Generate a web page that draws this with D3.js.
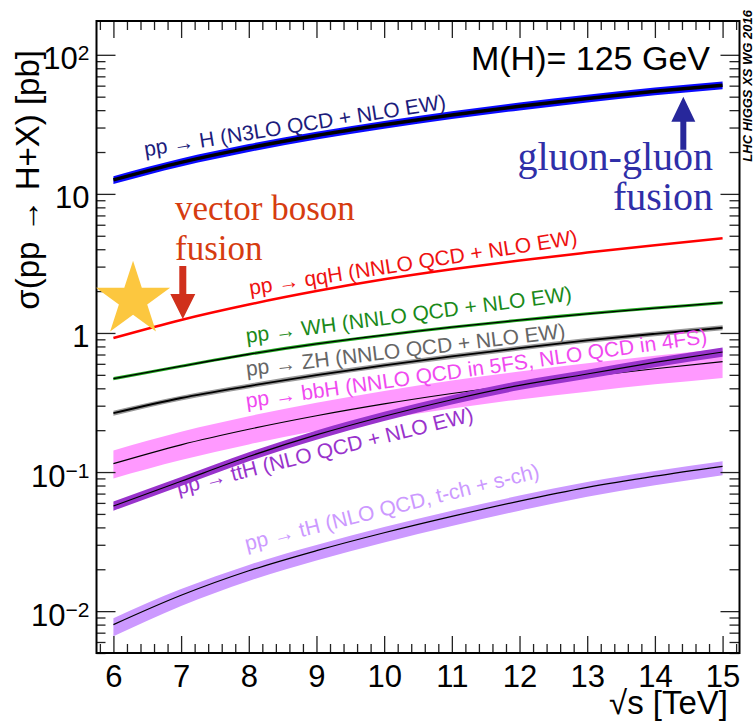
<!DOCTYPE html>
<meta charset="utf-8">
<style>
body { margin: 0; background: #fff; }
text { font-family: "Liberation Sans", Arial, sans-serif; }
.serif { font-family: "Liberation Serif", "DejaVu Serif", serif; }
</style>
<body>
<script src="https://d3js.org/d3.v7.min.js"></script>
<script>

// sqrt(s) grid [TeV]
const sqrtS = [6, 7, 8, 9, 10, 11, 12, 13, 14, 15];

// cross sections [pb], central value and band edges
const ggH    = [12.6, 16.85, 21.42, 26.3, 31.4, 36.9, 42.6, 48.58, 54.67, 60.5];
const ggH_lo = [11.8, 15.75, 20.0, 24.6, 29.35, 34.5, 39.8, 45.4, 51.1, 56.6];
const ggH_hi = [13.4, 17.95, 22.8, 28.0, 33.45, 39.3, 45.35, 51.7, 58.2, 64.4];

const qqH    = [0.92, 1.241, 1.601, 2.0, 2.43, 2.87, 3.32, 3.782, 4.278, 4.79];

const WH     = [0.47, 0.5771, 0.7032, 0.835, 0.965, 1.10, 1.235, 1.373, 1.51, 1.65];
const WH_lo  = [0.458, 0.563, 0.686, 0.814, 0.941, 1.073, 1.204, 1.339, 1.472, 1.609];
const WH_hi  = [0.482, 0.592, 0.721, 0.856, 0.989, 1.128, 1.266, 1.407, 1.548, 1.691];

const ZH     = [0.265, 0.3407, 0.4153, 0.497, 0.585, 0.678, 0.778, 0.8839, 0.9861, 1.09];
const ZH_lo  = [0.254, 0.327, 0.399, 0.477, 0.562, 0.651, 0.747, 0.849, 0.947, 1.046];
const ZH_hi  = [0.276, 0.354, 0.432, 0.517, 0.608, 0.705, 0.809, 0.919, 1.026, 1.134];

const bbH    = [0.115, 0.157, 0.203, 0.254, 0.309, 0.367, 0.427, 0.488, 0.553, 0.622];
const bbH_lo = [0.090, 0.122, 0.158, 0.198, 0.241, 0.286, 0.333, 0.378, 0.427, 0.475];
const bbH_hi = [0.143, 0.195, 0.252, 0.315, 0.383, 0.455, 0.529, 0.605, 0.686, 0.771];

const ttH    = [0.057, 0.0859, 0.1293, 0.185, 0.252, 0.331, 0.42, 0.5071, 0.6137, 0.73];
const ttH_lo = [0.0527, 0.0795, 0.1196, 0.171, 0.233, 0.306, 0.3885, 0.469, 0.568, 0.675];
const ttH_hi = [0.0613, 0.0923, 0.139, 0.199, 0.271, 0.356, 0.4515, 0.545, 0.66, 0.785];

const tH     = [0.0080, 0.0130, 0.0195, 0.0272, 0.0366, 0.0480, 0.0618, 0.0776, 0.0935, 0.110];
const tH_lo  = [0.0066, 0.0109, 0.0165, 0.0231, 0.0312, 0.0410, 0.0528, 0.0665, 0.0803, 0.0948];
const tH_hi  = [0.0089, 0.0144, 0.0215, 0.0299, 0.0402, 0.0527, 0.0677, 0.0848, 0.1018, 0.1195];

const yDecades = [0.01, 0.1, 1, 10, 100];

let width = 755,
    height = 723,
    L = 96.5, R = 739.5, T = 21, B = 653;

let svg = d3.select("body").append("svg")
            .attr("width", width)
            .attr("height", height);

let x = d3.scaleLinear().domain([5.75, 15.25]).range([L, R]),
    y = d3.scaleLog().domain([0.005, 175]).range([B, T]);

const rows = (c, lo, hi) => sqrtS.map((s, i) => ({s: s, c: c[i], lo: lo ? lo[i] : null, hi: hi ? hi[i] : null}));

const procs = [
    {d: rows(ggH, ggH_lo, ggH_hi), band: "#0a0aff", line: "#000", lw: 3.5},
    {d: rows(qqH), band: null, line: "#ff0000", lw: 2.5},
    {d: rows(WH, WH_lo, WH_hi), band: "#1faa1f", line: "#000", lw: 1.3},
    {d: rows(ZH, ZH_lo, ZH_hi), band: "#9a9a9a", line: "#000", lw: 1.8},
    {d: rows(bbH, bbH_lo, bbH_hi), band: "#ff99ff", line: "#000", lw: 1.2},
    {d: rows(ttH, ttH_lo, ttH_hi), band: "#9933cc", line: "#000", lw: 1.2},
    {d: rows(tH, tH_lo, tH_hi), band: "#cc99ff", line: "#000", lw: 1.2}
];

const area = d3.area().x(d => x(d.s)).y0(d => y(d.lo)).y1(d => y(d.hi)).curve(d3.curveMonotoneX),
      line = d3.line().x(d => x(d.s)).y(d => y(d.c)).curve(d3.curveMonotoneX);

let plot = svg.append("g");
procs.forEach(p => {
    if (p.band) plot.append("path").attr("d", area(p.d)).attr("fill", p.band);
    plot.append("path").attr("d", line(p.d))
        .attr("fill", "none").attr("stroke", p.line).attr("stroke-width", p.lw);
});

// axes (ticks inward on all four sides)
const xMinor = d3.range(58, 153, 2).map(v => v / 10).filter(v => v % 1 !== 0),
      yMinor = y.ticks().filter(v => !yDecades.some(d => Math.abs(v / d - 1) < 1e-6));

function styleAxis(g) {
    g.select(".domain").remove();
    g.selectAll(".tick line").attr("stroke", "#222").attr("stroke-width", 1.3);
}

svg.append("g").attr("transform", `translate(0,${B})`)
    .call(d3.axisBottom(x).tickValues(sqrtS).tickSize(-17).tickPadding(12).tickFormat(d3.format("d")))
    .call(styleAxis)
    .selectAll("text").attr("font-size", 31).attr("fill", "#000")
    .attr("font-family", "Liberation Sans, Arial, sans-serif");
svg.append("g").attr("transform", `translate(0,${B})`)
    .call(d3.axisBottom(x).tickValues(xMinor).tickSize(-9).tickFormat("")).call(styleAxis);
svg.append("g").attr("transform", `translate(0,${T})`)
    .call(d3.axisTop(x).tickValues(sqrtS).tickSize(-17).tickFormat("")).call(styleAxis);
svg.append("g").attr("transform", `translate(0,${T})`)
    .call(d3.axisTop(x).tickValues(xMinor).tickSize(-9).tickFormat("")).call(styleAxis);

let yl = svg.append("g").attr("transform", `translate(${L},0)`)
    .call(d3.axisLeft(y).tickValues(yDecades).tickSize(-19).tickPadding(7).tickFormat(""))
    .call(styleAxis);
yl.selectAll(".tick text").each(function(d) {
    const e = Math.round(Math.log10(d)),
          t = d3.select(this).attr("font-size", 31).attr("fill", "#000").attr("dy", "0.45em")
                .attr("font-family", "Liberation Sans, Arial, sans-serif");
    if (e === 0 || e === 1) { t.text(e === 0 ? "1" : "10"); return; }
    t.append("tspan").text("10");
    t.append("tspan").attr("dy", "-0.42em").attr("font-size", 21).text(e < 0 ? "\u2212" + (-e) : e);
});
svg.append("g").attr("transform", `translate(${L},0)`)
    .call(d3.axisLeft(y).tickValues(yMinor).tickSize(-9).tickFormat("")).call(styleAxis);
svg.append("g").attr("transform", `translate(${R},0)`)
    .call(d3.axisRight(y).tickValues(yDecades).tickSize(-19).tickFormat("")).call(styleAxis);
svg.append("g").attr("transform", `translate(${R},0)`)
    .call(d3.axisRight(y).tickValues(yMinor).tickSize(-10).tickFormat("")).call(styleAxis);

svg.append("rect")
    .attr("x", L).attr("y", T).attr("width", R - L).attr("height", B - T)
    .attr("fill", "none").attr("stroke", "#000").attr("stroke-width", 2);

// axis titles
svg.append("text")
    .attr("x", 728).attr("y", 714)
    .attr("text-anchor", "end").attr("font-size", 33)
    .text("\u221As [TeV]");
svg.append("text")
    .attr("transform", "translate(39,50) rotate(-90)")
    .attr("text-anchor", "end").attr("font-size", 33)
    .text("\u03C3(pp \u2192 H+X) [pb]");

svg.append("text")
    .attr("x", 710).attr("y", 70)
    .attr("text-anchor", "end").attr("font-size", 34)
    .text("M(H)= 125 GeV");

svg.append("text")
    .attr("transform", "translate(752,10) rotate(-90)")
    .attr("text-anchor", "end").attr("font-size", 13)
    .attr("font-weight", "bold").attr("font-style", "italic")
    .text("LHC HIGGS XS WG 2016");

// process labels along the curves
const labels = [
    {t: "pp \u2192 H (N3LO QCD + NLO EW)", s: 6.47, v: 18.6, a: 9, c: "#1c1c7c"},
    {t: "pp \u2192 qqH (NNLO QCD + NLO EW)", s: 8.02, v: 1.875, a: 8.8, c: "#ee1111"},
    {t: "pp \u2192 WH (NNLO QCD + NLO EW)", s: 7.97, v: 0.848, a: 7.4, c: "#1a8a1a"},
    {t: "pp \u2192 ZH (NNLO QCD + NLO EW)", s: 7.97, v: 0.491, a: 6.8, c: "#666666"},
    {t: "pp \u2192 bbH (NNLO QCD in 5FS, NLO QCD in 4FS)", s: 7.97, v: 0.289, a: 8, c: "#f04af0"},
    {t: "pp \u2192 ttH (NLO QCD + NLO EW)", s: 6.96, v: 0.0687, a: 14, c: "#9933cc"},
    {t: "pp \u2192 tH (NLO QCD, t-ch + s-ch)", s: 7.97, v: 0.0272, a: 14, c: "#cc99ff"}
];
svg.append("g").selectAll("text")
    .data(labels)
    .join("text")
        .attr("transform", d => `translate(${x(d.s)},${y(d.v)}) rotate(${-d.a})`)
        .attr("font-size", 21)
        .attr("fill", d => d.c)
        .text(d => d.t);

// arrows (tip and tail given as cross-section values at a fixed sqrt(s))
function arrow(s, tip, tail, shaft, head, headLen, color) {
    const cx = x(s), ty = y(tip), by = y(tail),
          dir = by > ty ? 1 : -1,
          hy = ty + dir * headLen;
    svg.append("path")
        .attr("d", `M${cx - shaft / 2},${by}L${cx - shaft / 2},${hy}L${cx - head / 2},${hy}L${cx},${ty}` +
                   `L${cx + head / 2},${hy}L${cx + shaft / 2},${hy}L${cx + shaft / 2},${by}Z`)
        .attr("fill", color);
}
arrow(14.42, 50, 20.8, 6, 24, 25, "#27279b");
arrow(7.025, 1.26, 3.03, 7, 25, 25, "#d0301c");

svg.append("text").attr("class", "serif")
    .attr("x", 713).attr("y", 170).attr("text-anchor", "end")
    .attr("font-size", 40).attr("fill", "#2f2fa8")
    .text("gluon-gluon");
svg.append("text").attr("class", "serif")
    .attr("x", 713).attr("y", 210).attr("text-anchor", "end")
    .attr("font-size", 40).attr("fill", "#2f2fa8")
    .text("fusion");

svg.append("text").attr("class", "serif")
    .attr("x", 175).attr("y", 220)
    .attr("font-size", 35).attr("fill", "#d63c10")
    .text("vector boson");
svg.append("text").attr("class", "serif")
    .attr("x", 175).attr("y", 260)
    .attr("font-size", 35).attr("fill", "#d63c10")
    .text("fusion");

// star
svg.append("path")
    .attr("transform", `translate(${x(6.29)},${y(1.73)})`)
    .attr("d", d3.symbol(d3.symbolStar, 1707)())
    .attr("fill", "#fcc73f");

</script>
